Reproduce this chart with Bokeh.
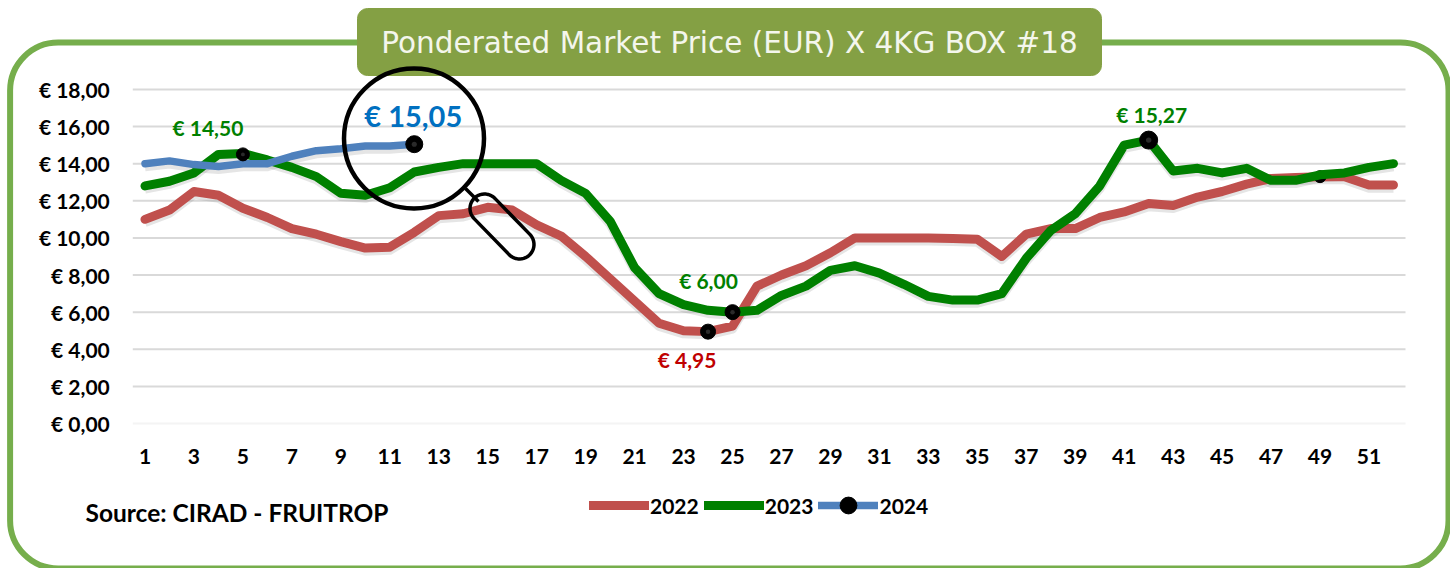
import numpy as np
from bokeh.plotting import figure
from bokeh.models import (BoxAnnotation, Label, Legend, LegendItem, FixedTicker,
                          ColumnDataSource)
from bokeh.transform import dodge
from bokeh.core.properties import value
from bokeh.embed import file_html
from bokeh.resources import INLINE

weeks = list(range(1, 53))
y2022 = [11.0, 11.5, 12.5, 12.3, 11.6, 11.1, 10.5, 10.2, 9.8, 9.45, 9.5, 10.3, 11.2, 11.3, 11.65, 11.5,
         10.7, 10.1, 9.0, 7.8, 6.6, 5.4, 5.0, 4.95, 5.25, 7.4, 8.0, 8.5, 9.2, 10.0, 10.0, 10.0, 10.0,
         9.97, 9.93, 9.0, 10.2, 10.5, 10.5, 11.1, 11.4, 11.85, 11.75, 12.2, 12.5, 12.9, 13.2, 13.25,
         13.3, 13.3, 12.85, 12.85]
y2023 = [12.8, 13.05, 13.5, 14.5, 14.55, 14.2, 13.8, 13.3, 12.4, 12.3, 12.7, 13.55, 13.8, 14.0, 14.0, 14.0,
         14.0, 13.1, 12.4, 10.9, 8.4, 7.0, 6.4, 6.1, 6.0, 6.1, 6.9, 7.4, 8.25, 8.5, 8.1, 7.5, 6.85,
         6.65, 6.65, 7.0, 8.9, 10.4, 11.3, 12.8, 15.0, 15.27, 13.6, 13.75, 13.5, 13.75, 13.1, 13.1,
         13.4, 13.5, 13.8, 14.0]
weeks24 = list(range(1, 13))
y2024 = [14.0, 14.15, 13.95, 13.85, 14.0, 14.0, 14.4, 14.7, 14.8, 14.95, 14.95, 15.05]

y_ticks = [0, 2, 4, 6, 8, 10, 12, 14, 16, 18]
y_tick_labels = ["€ 0,00", "€ 2,00", "€ 4,00", "€ 6,00", "€ 8,00", "€ 10,00", "€ 12,00", "€ 14,00", "€ 16,00", "€ 18,00"]
x_ticks = list(range(1, 52, 2))

mark_w = [42, 5, 24, 25, 12]
mark_v = [15.27, 14.5, 4.95, 6.0, 15.05]
mark_s = [18, 13, 15, 15, 17]
hidden_w = [49]
hidden_v = [13.3]

RED, GREEN, BLUE = "#C0504D", "#008000", "#4F81BD"
FONT = "Lato"
W, H = 1450, 568

PX_W, PX_U = 24.48, 18.56


def wx(px):
    return 1 + (px - 144.5) / PX_W


def vy(py):
    return (423.0 - py) / PX_U


p = figure(width=W, height=H, output_backend="svg", toolbar_location=None,
           x_range=(wx(0), wx(W)), y_range=(vy(H), vy(0)),
           min_border=0, min_border_left=0, min_border_right=0, min_border_top=0, min_border_bottom=0,
           outline_line_color=None, background_fill_color=None, border_fill_color="white")

p.yaxis.ticker = FixedTicker(ticks=y_ticks)
p.yaxis.major_label_overrides = dict(zip(y_ticks, y_tick_labels))
p.xaxis.ticker = FixedTicker(ticks=x_ticks)
p.yaxis.fixed_location = wx(132.3)
p.xaxis.fixed_location = vy(432)
for ax in (p.xaxis[0], p.yaxis[0]):
    ax.axis_line_color = None
    ax.major_tick_line_color = None
    ax.minor_tick_line_color = None
    ax.major_label_text_font = FONT
    ax.major_label_text_font_style = "bold"
    ax.major_label_text_font_size = "21px"
    ax.major_label_text_color = "black"
p.yaxis.major_label_standoff = 17
p.xaxis.major_label_standoff = 10
p.grid.visible = False

# horizontal guide lines, stopping at the plot's ends; the zero line is almost invisible
guide_col = ["#F4F4F4"] + ["#D9D9D9"] * (len(y_ticks) - 1)
p.segment([wx(132.3)] * len(y_ticks), y_ticks, [wx(1405)] * len(y_ticks), y_ticks,
          line_color=guide_col, line_width=2)

src22 = ColumnDataSource(dict(x=weeks, y=y2022))
src23 = ColumnDataSource(dict(x=weeks, y=y2023))
src24 = ColumnDataSource(dict(x=weeks24, y=y2024))

# soft shadows under the lines
for s in (src22, src23, src24):
    p.line("x", dodge("y", -0.17, range=p.y_range), source=s, line_color="#888888", line_alpha=0.22,
           line_width=9, line_join="round")

r22 = p.line("x", "y", source=src22, line_color=RED, line_width=9, line_cap="round", line_join="round")
# the marker at week 49 sits underneath the 2023 line
p.scatter(hidden_w, hidden_v, size=12, color="black")
r23 = p.line("x", "y", source=src23, line_color=GREEN, line_width=9, line_cap="round", line_join="round")
r24 = p.line("x", "y", source=src24, line_color=BLUE, line_width=7.5, line_cap="round", line_join="round")
rm = p.scatter(mark_w, mark_v, size=mark_s, color="black")
p.scatter(mark_w, mark_v, size=[s * 0.3 for s in mark_s], color="#2A2A2A", line_color=None)

# value labels, anchored on their points
for w, v, txt, col, size, dx, dy in [
    (5, 14.5, "€ 14,50", GREEN, "21px", -35, -27),
    (25, 6.0, "€ 6,00", GREEN, "21px", -24, -32),
    (24, 4.95, "€ 4,95", "#C00000", "21px", -21, 28),
    (42, 15.27, "€ 15,27", GREEN, "21px", 3, -26),
    (12, 15.05, "€ 15,05", "#0070C0", "29px", -1, -29),
]:
    p.text([w], [v], text=[txt], text_color=col, text_font=value(FONT), text_font_style="bold",
           text_font_size=size, text_align="center", text_baseline="middle", x_offset=dx, y_offset=dy)

# rounded card and title plate
p.add_layout(BoxAnnotation(left=9.6, right=1448, top=42, bottom=568,
                           left_units="canvas", right_units="canvas", top_units="canvas", bottom_units="canvas",
                           fill_alpha=0, line_color="#76AE4C", line_width=6, line_alpha=1, border_radius=48))
p.add_layout(BoxAnnotation(left=357, right=1101, top=8, bottom=75,
                           left_units="canvas", right_units="canvas", top_units="canvas", bottom_units="canvas",
                           fill_color="#84A044", fill_alpha=1, line_color="#84A044", line_alpha=1, border_radius=10))
p.add_layout(Label(x=729, y=42, x_units="canvas", y_units="canvas",
                   text="Ponderated Market Price (EUR) X 4KG BOX #18", text_color="#F4F6EC",
                   text_font="DejaVu Sans", text_font_size="29.5px", text_align="center", text_baseline="middle"))
p.add_layout(Label(x=85, y=512, x_units="canvas", y_units="canvas",
                   text="Source: CIRAD - FRUITROP", text_color="black", text_font=FONT, text_font_style="bold",
                   text_font_size="24.5px", text_align="left", text_baseline="middle"))

# magnifying glass
p.scatter([wx(413.5)], [vy(138)], size=140, fill_alpha=0, line_color="black", line_width=4.5, level="overlay")
p.line([wx(465), wx(478)], [vy(188), vy(201)], line_color="black", line_width=3.5, level="overlay")
t = np.linspace(-np.pi / 2, np.pi / 2, 24)
cx1, cy1, cx2, cy2, rad = 484.0, 208.0, 519.0, 244.0, 14.5
ang = np.arctan2(cy2 - cy1, cx2 - cx1)
px = np.r_[cx2 + rad * np.cos(ang + t), cx1 + rad * np.cos(ang + np.pi + t)]
py = np.r_[cy2 + rad * np.sin(ang + t), cy1 + rad * np.sin(ang + np.pi + t)]
p.patch(wx(px), vy(py), fill_alpha=0, line_color="black", line_width=3.5, level="overlay")

legend = Legend(items=[LegendItem(label="2022", renderers=[r22]),
                       LegendItem(label="2023", renderers=[r23]),
                       LegendItem(label="2024", renderers=[r24, rm])],
                orientation="horizontal", location=(589, 42),
                background_fill_alpha=0, border_line_color=None, padding=0, margin=0,
                glyph_width=60, glyph_height=42, label_standoff=1, spacing=5,
                label_text_font=FONT, label_text_font_style="bold", label_text_font_size="21px",
                label_text_color="black")
p.add_layout(legend)

open("out.html", "w").write(file_html(p, INLINE))
